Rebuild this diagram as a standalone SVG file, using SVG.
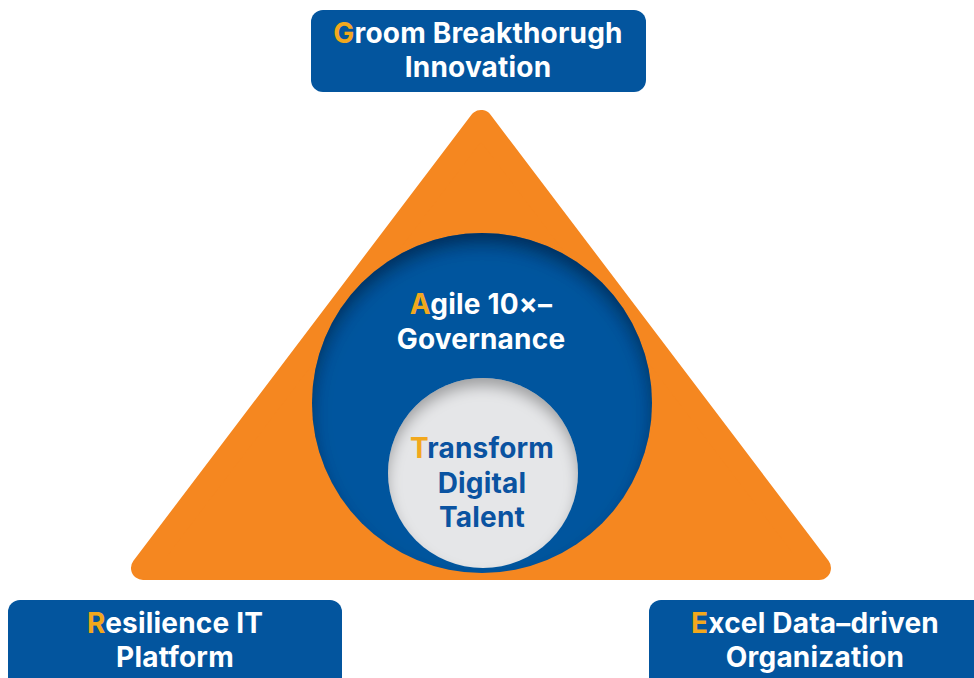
<svg xmlns="http://www.w3.org/2000/svg" width="974" height="678" viewBox="0 0 974 678">
<defs>
<style>
.box{fill:#03559E;}
.t{font-family:Inter,"Open Sans","Liberation Sans",sans-serif;font-weight:700;font-size:28px;text-anchor:middle;letter-spacing:0.2px;}
.w{fill:#ffffff;}
.b{fill:#0A53A1;}
.g{fill:#F2A81D;}
</style>
<filter id="inset" x="-10%" y="-10%" width="120%" height="120%">
<feGaussianBlur in="SourceAlpha" stdDeviation="9"/>
<feOffset dy="12" result="ob"/>
<feComposite in="SourceAlpha" in2="ob" operator="out" result="rim"/>
<feFlood flood-color="#001530" flood-opacity="0.75"/>
<feComposite in2="rim" operator="in" result="sh"/>
<feComposite in="sh" in2="SourceGraphic" operator="over"/>
</filter>
<filter id="inset2" x="-10%" y="-10%" width="120%" height="120%">
<feGaussianBlur in="SourceAlpha" stdDeviation="7"/>
<feOffset dy="9" result="ob"/>
<feComposite in="SourceAlpha" in2="ob" operator="out" result="rim"/>
<feFlood flood-color="#000000" flood-opacity="0.55"/>
<feComposite in2="rim" operator="in" result="sh"/>
<feComposite in="sh" in2="SourceGraphic" operator="over"/>
</filter>
</defs>
<rect width="974" height="678" fill="#ffffff"/>
<g id="triangle">
<polygon points="481,122 143,568 819,568" fill="#F58720" stroke="#F58720" stroke-width="24" stroke-linejoin="round"/>
</g>
<g id="governance">
<circle cx="482" cy="403" r="170" fill="#03559E" filter="url(#inset)"/>
<text class="t w" x="481" y="314"><tspan class="g">A</tspan>gile 10×–</text>
<text class="t w" x="481" y="349">Governance</text>
</g>
<g id="talent">
<circle cx="483" cy="473" r="95" fill="#E5E6E8" filter="url(#inset2)"/>
<text class="t b" x="482" y="458"><tspan class="g">T</tspan>ransform</text>
<text class="t b" x="482" y="493">Digital</text>
<text class="t b" x="482" y="527">Talent</text>
</g>
<g id="groom">
<rect class="box" x="311" y="10" width="335" height="82" rx="12"/>
<text class="t w" x="478" y="43"><tspan class="g">G</tspan>room Breakthorugh</text>
<text class="t w" x="478" y="77">Innovation</text>
</g>
<g id="resilience">
<rect class="box" x="8" y="600" width="334" height="90" rx="12"/>
<text class="t w" x="175" y="633"><tspan class="g">R</tspan>esilience IT</text>
<text class="t w" x="175" y="667">Platform</text>
</g>
<g id="excel">
<rect class="box" x="649" y="600" width="340" height="90" rx="12"/>
<text class="t w" x="815" y="633"><tspan class="g">E</tspan>xcel Data–driven</text>
<text class="t w" x="815" y="667">Organization</text>
</g>
<g id="connectors"></g>
</svg>
